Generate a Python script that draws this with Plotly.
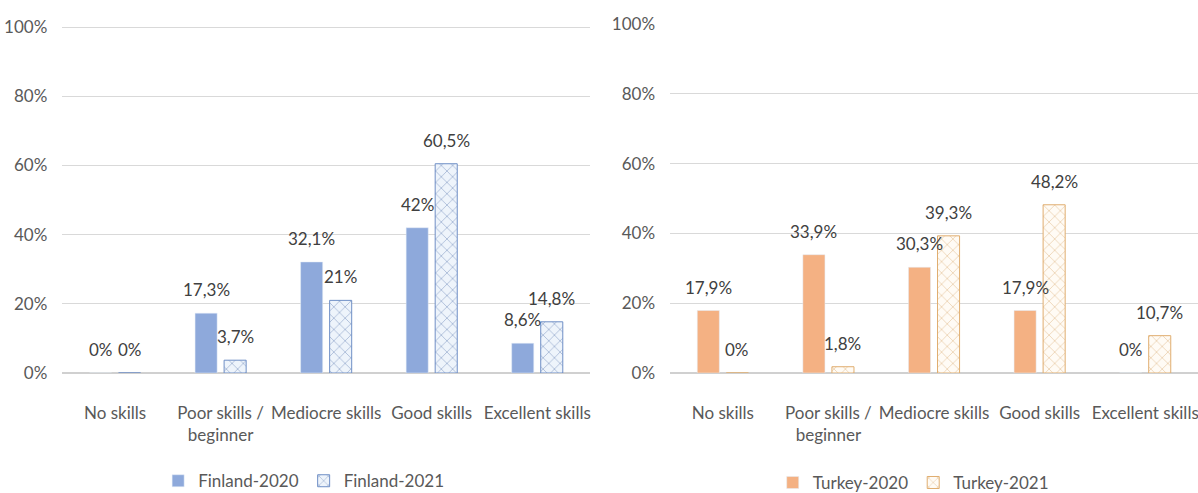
import plotly.graph_objects as go
from plotly.subplots import make_subplots

categories = ["No skills", "Poor skills /<br>beginner", "Mediocre skills", "Good skills", "Excellent skills"]
finland_2020 = [0, 17.3, 32.1, 42, 8.6]
finland_2021 = [0, 3.7, 21, 60.5, 14.8]
turkey_2020 = [17.9, 33.9, 30.3, 17.9, 0]
turkey_2021 = [0, 1.8, 39.3, 48.2, 10.7]
y_ticks = [0, 20, 40, 60, 80, 100]

FONT = "Lato, sans-serif"
FSIZE = 17
AXIS_GREY = "#595959"
LABEL_GREY = "#404040"
BARGAP = 0.45
BARGROUPGAP = 0.24


def pct(v):
    return (f"{v:g}".replace(".", ",")) + "%"


fig = make_subplots(rows=1, cols=2, horizontal_spacing=0.07)
xs = list(range(len(categories)))

series = [
    (finland_2020, "Finland-2020", 1, "legend", dict(color="#8EA9DB")),
    (finland_2021, "Finland-2021", 1, "legend",
     dict(color="#EEF4FB", line=dict(color="#6F8FC6", width=1),
          pattern=dict(shape="x", fgcolor="#4F6FA8", size=8, solidity=0.18))),
    (turkey_2020, "Turkey-2020", 2, "legend2", dict(color="#F4B183")),
    (turkey_2021, "Turkey-2021", 2, "legend2",
     dict(color="#FFFBF5", line=dict(color="#E0AE70", width=1),
          pattern=dict(shape="x", fgcolor="#D3A060", size=8, solidity=0.18))),
]

for vals, name, col, leg, marker in series:
    fig.add_trace(go.Bar(x=xs, y=vals, name=name, marker=marker, legend=leg,
                         hoverinfo="skip"), row=1, col=col)

# value labels above each bar
offset = (1 - BARGAP) / 4
for vals, name, col, leg, marker in series:
    shift = -offset if name.endswith("2020") else offset
    xref = "x" if col == 1 else "x2"
    yref = "y" if col == 1 else "y2"
    for i, v in enumerate(vals):
        fig.add_annotation(x=i + shift, y=v, xref=xref, yref=yref, text=pct(v),
                           showarrow=False, yanchor="bottom", yshift=11,
                           font=dict(family=FONT, size=FSIZE, color=LABEL_GREY))

for col, dom, ymax in [(1, [0.052, 0.4925], 100.9), (2, [0.5593, 1.0], 100.0)]:
    fig.update_xaxes(domain=dom, range=[-0.5, 4.5], tickvals=xs, ticktext=categories,
                     showgrid=False, showline=False, zeroline=False, ticks="",
                     tickangle=0, ticklabelstandoff=28, ticklabeloverflow="allow",
                     automargin=False,
                     tickfont=dict(family=FONT, size=FSIZE, color=AXIS_GREY),
                     row=1, col=col)
    fig.update_yaxes(range=[0, ymax], tickvals=y_ticks,
                     ticktext=[f"{t}%" for t in y_ticks],
                     showgrid=True, gridcolor="#D9D9D9", gridwidth=1,
                     zeroline=True, zerolinecolor="#D0D0D0", zerolinewidth=1.5,
                     showline=False, ticks="", ticklabelstandoff=14,
                     automargin=False,
                     tickfont=dict(family=FONT, size=FSIZE, color=AXIS_GREY),
                     row=1, col=col)

legend_style = dict(orientation="h", yanchor="middle", xanchor="left",
                    font=dict(family=FONT, size=FSIZE, color=AXIS_GREY),
                    bgcolor="rgba(0,0,0,0)", itemwidth=30, tracegroupgap=0)

fig.update_layout(
    width=1198, height=493,
    margin=dict(l=0, r=0, t=24, b=120, autoexpand=False),
    paper_bgcolor="white", plot_bgcolor="white",
    barmode="group", bargap=BARGAP, bargroupgap=BARGROUPGAP,
    showlegend=True,
    legend=dict(x=0.132, y=-0.31, **legend_style),
    legend2=dict(x=0.645, y=-0.315, **legend_style),
)

fig.write_html("out.html")
